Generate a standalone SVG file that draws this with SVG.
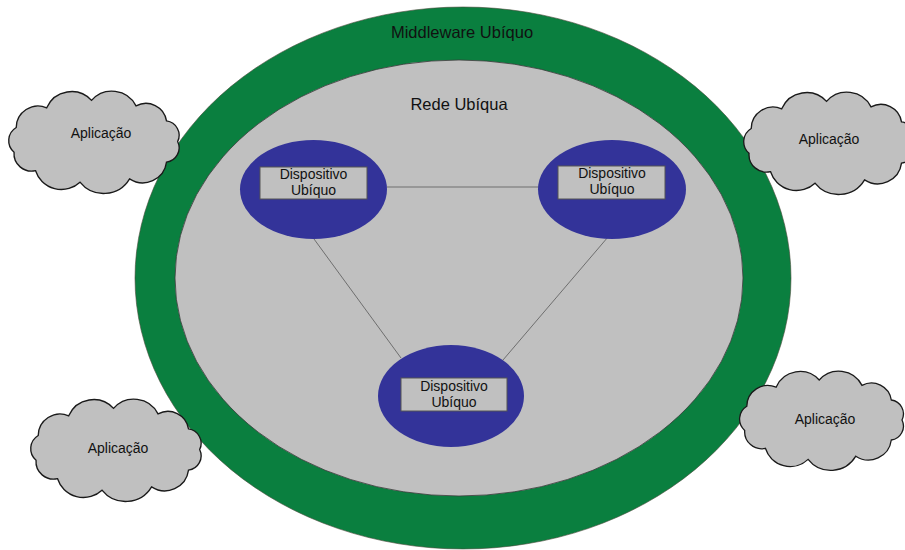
<svg xmlns="http://www.w3.org/2000/svg" xmlns:xlink="http://www.w3.org/1999/xlink" width="905" height="550" viewBox="0 0 905 550">
  <style>
    text { font-family: "Liberation Sans", Arial, sans-serif; fill: #111; text-anchor: middle; }
    .title { font-size: 16.5px; }
    .dev { font-size: 14px; }
    .app { font-size: 14px; }
    .cloud { fill: #c0c0c0; stroke: #1a1a1a; stroke-width: 1.3; }
    .device { fill: #333399; }
    .label-box { fill: #c0c0c0; stroke: #555; stroke-width: 1; }
    .link { stroke: #6e6e6e; stroke-width: 1; fill: none; }
  </style>
  <defs>
    <path id="cloud-shape" d="M10.8,38.3 A21,21 0 0 1 40.1,19.2 A26,26 0 0 1 83.2,12 A26,26 0 0 1 126,17.4 A20,20 0 0 1 155.3,32 A14,14 0 0 1 166,52 A14,14 0 0 1 155.3,72 A23,23 0 0 1 119.8,88.2 A29,29 0 0 1 72.1,91.4 A26,26 0 0 1 29.4,80.3 A17,17 0 0 1 8.7,62.4 A15,15 0 0 1 10.8,38.3 Z"/>
  </defs>

  <!-- middleware ring -->
  <g id="middleware">
    <ellipse cx="463" cy="278" rx="328" ry="271" fill="#0a7f3f" stroke="#4a4a3a" stroke-width="0.6"/>
    <text class="title" x="462" y="38">Middleware Ubíquo</text>
  </g>

  <!-- ubiquitous network -->
  <g id="rede">
    <ellipse cx="459" cy="278" rx="284" ry="218" fill="#c0c0c0" stroke="#3a3a3a" stroke-width="0.8"/>
    <text class="title" x="459" y="110">Rede Ubíqua</text>
  </g>

  <!-- links between devices -->
  <g id="connectors">
    <line class="link" x1="387" y1="187" x2="539" y2="187"/>
    <line class="link" x1="314" y1="239" x2="401" y2="358"/>
    <line class="link" x1="608" y1="237" x2="503" y2="360"/>
  </g>

  <g id="device-left">
    <ellipse class="device" cx="313.5" cy="189.5" rx="73.5" ry="49.5"/>
    <rect class="label-box" x="260" y="167" width="107" height="32"/>
    <text class="dev" x="313.5" y="179">Dispositivo</text>
    <text class="dev" x="313.5" y="195">Ubíquo</text>
  </g>

  <g id="device-right">
    <ellipse class="device" cx="612" cy="189.5" rx="74" ry="49.5"/>
    <rect class="label-box" x="558" y="166" width="107" height="33"/>
    <text class="dev" x="612" y="178">Dispositivo</text>
    <text class="dev" x="612" y="194">Ubíquo</text>
  </g>

  <g id="device-bottom">
    <ellipse class="device" cx="451" cy="396" rx="73" ry="51"/>
    <rect class="label-box" x="401" y="378" width="106" height="33"/>
    <text class="dev" x="454" y="391">Dispositivo</text>
    <text class="dev" x="454" y="407">Ubíquo</text>
  </g>

  <!-- applications -->
  <g id="app-top-left">
    <use href="#cloud-shape" xlink:href="#cloud-shape" class="cloud" transform="translate(5,88) scale(1.04,1.03)"/>
    <text class="app" x="101" y="138">Aplicação</text>
  </g>
  <g id="app-top-right">
    <use href="#cloud-shape" xlink:href="#cloud-shape" class="cloud" transform="translate(740,89) scale(1.04,1.03)"/>
    <text class="app" x="829" y="144">Aplicação</text>
  </g>
  <g id="app-bottom-left">
    <use href="#cloud-shape" xlink:href="#cloud-shape" class="cloud" transform="translate(27,396) scale(1.04,1.03)"/>
    <text class="app" x="118" y="453">Aplicação</text>
  </g>
  <g id="app-bottom-right">
    <use href="#cloud-shape" xlink:href="#cloud-shape" class="cloud" transform="translate(736,368)"/>
    <text class="app" x="825" y="424">Aplicação</text>
  </g>
</svg>
